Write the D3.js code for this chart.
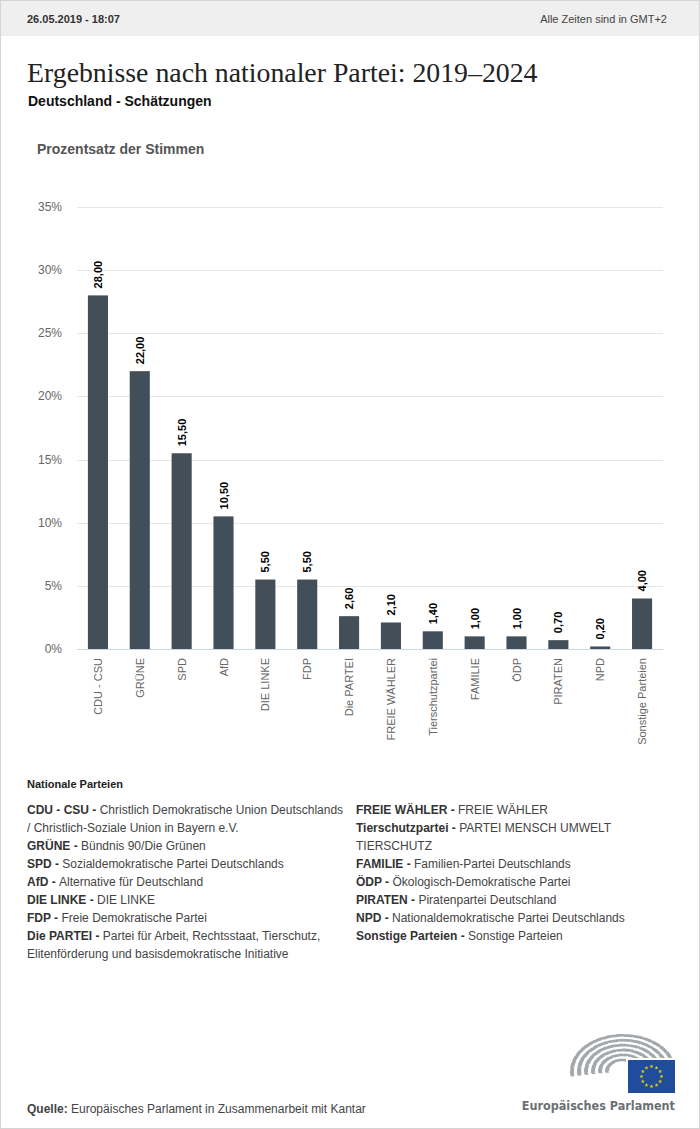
<!DOCTYPE html>
<html>
<head>
<meta charset="utf-8">
<script src="https://cdn.jsdelivr.net/npm/d3@7"></script>
<style>
  body { margin: 0; background: #fff; }
  svg { display: block; font-family: "Liberation Sans", Arial, sans-serif; }
</style>
</head>
<body>
<script>
(function(){

    //chart data
    var parties = ["CDU - CSU", "GRÜNE", "SPD", "AfD", "DIE LINKE", "FDP", "Die PARTEI",
        "FREIE WÄHLER", "Tierschutzpartei", "FAMILIE", "ÖDP", "PIRATEN", "NPD", "Sonstige Parteien"];
    var shares = [28.00, 22.00, 15.50, 10.50, 5.50, 5.50, 2.60, 2.10, 1.40, 1.00, 1.00, 0.70, 0.20, 4.00];
    var yTicks = [0, 5, 10, 15, 20, 25, 30, 35];

    //legend entries: [short name, long name lines]
    var legendLeft = [
        ["CDU - CSU", ["Christlich Demokratische Union Deutschlands", "/ Christlich-Soziale Union in Bayern e.V."]],
        ["GRÜNE", ["Bündnis 90/Die Grünen"]],
        ["SPD", ["Sozialdemokratische Partei Deutschlands"]],
        ["AfD", ["Alternative für Deutschland"]],
        ["DIE LINKE", ["DIE LINKE"]],
        ["FDP", ["Freie Demokratische Partei"]],
        ["Die PARTEI", ["Partei für Arbeit, Rechtsstaat, Tierschutz,", "Elitenförderung und basisdemokratische Initiative"]]
    ];
    var legendRight = [
        ["FREIE WÄHLER", ["FREIE WÄHLER"]],
        ["Tierschutzpartei", ["PARTEI MENSCH UMWELT", "TIERSCHUTZ"]],
        ["FAMILIE", ["Familien-Partei Deutschlands"]],
        ["ÖDP", ["Ökologisch-Demokratische Partei"]],
        ["PIRATEN", ["Piratenpartei Deutschland"]],
        ["NPD", ["Nationaldemokratische Partei Deutschlands"]],
        ["Sonstige Parteien", ["Sonstige Parteien"]]
    ];

    var width = 700, height = 1129;

    var svg = d3.select("body")
        .append("svg")
        .attr("width", width)
        .attr("height", height);

    //frame and header bar
    svg.append("rect")
        .attr("x", 0.5).attr("y", 0.5)
        .attr("width", width - 1).attr("height", height - 1)
        .attr("fill", "#fff")
        .attr("stroke", "#d4d4d4");

    svg.append("rect")
        .attr("x", 1).attr("y", 1)
        .attr("width", width - 2).attr("height", 35)
        .attr("fill", "#eeefee");

    svg.append("text")
        .attr("x", 27).attr("y", 23)
        .attr("font-size", 11).attr("font-weight", "bold")
        .attr("fill", "#333")
        .text("26.05.2019 - 18:07");

    svg.append("text")
        .attr("x", 667).attr("y", 23)
        .attr("text-anchor", "end")
        .attr("font-size", 11)
        .attr("fill", "#444")
        .text("Alle Zeiten sind in GMT+2");

    //titles
    svg.append("text")
        .attr("x", 27).attr("y", 82)
        .attr("font-family", "'Liberation Serif', 'Times New Roman', serif")
        .attr("font-size", 27.8)
        .attr("fill", "#222")
        .text("Ergebnisse nach nationaler Partei: 2019–2024");

    svg.append("text")
        .attr("x", 28).attr("y", 106)
        .attr("font-size", 14).attr("font-weight", "bold")
        .attr("fill", "#111")
        .text("Deutschland - Schätzungen");

    svg.append("text")
        .attr("x", 37).attr("y", 154)
        .attr("font-size", 14).attr("font-weight", "bold")
        .attr("fill", "#555")
        .text("Prozentsatz der Stimmen");

    //scales
    var x = d3.scaleBand()
        .domain(parties)
        .range([77, 663])
        .paddingInner(0.52)
        .paddingOuter(0.26);

    var y = d3.scaleLinear()
        .domain([0, 35])
        .range([649, 207]);

    //gridlines
    svg.append("g")
        .selectAll("line")
        .data(yTicks.slice(1))
        .enter()
        .append("line")
        .attr("x1", 77).attr("x2", 663)
        .attr("y1", function(d){ return Math.round(y(d)) + 0.5; })
        .attr("y2", function(d){ return Math.round(y(d)) + 0.5; })
        .attr("stroke", "#e6e6e6");

    //y labels
    svg.append("g")
        .selectAll("text")
        .data(yTicks)
        .enter()
        .append("text")
        .attr("x", 62)
        .attr("y", function(d){ return y(d) + 4; })
        .attr("text-anchor", "end")
        .attr("font-size", 12)
        .attr("fill", "#666")
        .text(function(d){ return d + "%"; });

    //bars
    svg.append("g")
        .selectAll("rect")
        .data(parties)
        .enter()
        .append("rect")
        .attr("x", function(d){ return x(d); })
        .attr("width", x.bandwidth())
        .attr("y", function(d, i){ return y(shares[i]); })
        .attr("height", function(d, i){ return y(0) - y(shares[i]); })
        .attr("fill", "#434f58");

    //axis line
    svg.append("line")
        .attr("x1", 77).attr("x2", 663)
        .attr("y1", 649.5).attr("y2", 649.5)
        .attr("stroke", "#ccd6eb");

    //value labels
    svg.append("g")
        .selectAll("text")
        .data(parties)
        .enter()
        .append("text")
        .attr("transform", function(d, i){
            return "translate(" + (x(d) + x.bandwidth() / 2 + 4) + "," + (y(shares[i]) - 7) + ") rotate(-90)";
        })
        .attr("font-size", 11).attr("font-weight", "bold")
        .attr("fill", "#000")
        .text(function(d, i){ return shares[i].toFixed(2).replace(".", ","); });

    //category labels
    svg.append("g")
        .selectAll("text")
        .data(parties)
        .enter()
        .append("text")
        .attr("transform", function(d){
            return "translate(" + (x(d) + x.bandwidth() / 2 + 4) + ",658) rotate(-90)";
        })
        .attr("text-anchor", "end")
        .attr("font-size", 11)
        .attr("fill", "#666")
        .text(function(d){ return d; });

    //legend
    svg.append("text")
        .attr("x", 27).attr("y", 788)
        .attr("font-size", 11).attr("font-weight", "bold")
        .attr("fill", "#222")
        .text("Nationale Parteien");

    function drawLegend(entries, x0){
        var row = 0;
        entries.forEach(function(e){
            e[1].forEach(function(line, j){
                var t = svg.append("text")
                    .attr("x", x0)
                    .attr("y", 814 + row * 18)
                    .attr("font-size", 12)
                    .attr("fill", "#444");
                if (j == 0){
                    t.append("tspan").attr("font-weight", "bold").attr("fill", "#333").text(e[0] + " - ");
                }
                t.append("tspan").text(line);
                row++;
            });
        });
    }
    drawLegend(legendLeft, 27);
    drawLegend(legendRight, 356);

    //source
    var src = svg.append("text")
        .attr("x", 27).attr("y", 1113)
        .attr("font-size", 12)
        .attr("fill", "#444");
    src.append("tspan").attr("font-weight", "bold").text("Quelle: ");
    src.append("tspan").text("Europäisches Parlament in Zusammenarbeit mit Kantar");

    //logo: hemicycle arcs
    var logo = svg.append("g").attr("transform", "translate(623,1071) scale(1,0.7)");
    [53, 46, 39, 32, 25, 18].forEach(function(r, i){
        var arcPath = d3.arc()({
            innerRadius: r - 4,
            outerRadius: r,
            startAngle: -Math.PI / 2 - 0.15,
            endAngle: Math.PI / 2
        });
        logo.append("path")
            .attr("d", arcPath)
            .attr("fill", "#a3a8ad");
        logo.append("path")
            .attr("d", arcPath)
            .attr("fill", "none")
            .attr("stroke", "#fff")
            .attr("stroke-width", 1.2)
            .attr("stroke-dasharray", "1.2 " + (9 + i));
    });

    //EU flag
    svg.append("rect")
        .attr("x", 626).attr("y", 1058)
        .attr("width", 50).attr("height", 37)
        .attr("fill", "#fff");
    svg.append("rect")
        .attr("x", 628).attr("y", 1060)
        .attr("width", 47).attr("height", 33)
        .attr("fill", "#1f4d9b");
    var star = d3.symbol().type(d3.symbolStar).size(5);
    d3.range(12).forEach(function(k){
        var a = k * Math.PI / 6;
        svg.append("path")
            .attr("d", star())
            .attr("transform", "translate(" + (651.5 + 10 * Math.sin(a)) + "," + (1076.5 - 10 * Math.cos(a)) + ")")
            .attr("fill", "#f5d000");
    });

    svg.append("text")
        .attr("x", 675).attr("y", 1110)
        .attr("text-anchor", "end")
        .attr("font-size", 12.5)
        .attr("font-weight", "bold")
        .attr("font-family", "'Liberation Sans Narrow', 'DejaVu Sans Condensed', sans-serif")
        .attr("fill", "#6b7075")
        .text("Europäisches Parlament");

})();
</script>
</body>
</html>
